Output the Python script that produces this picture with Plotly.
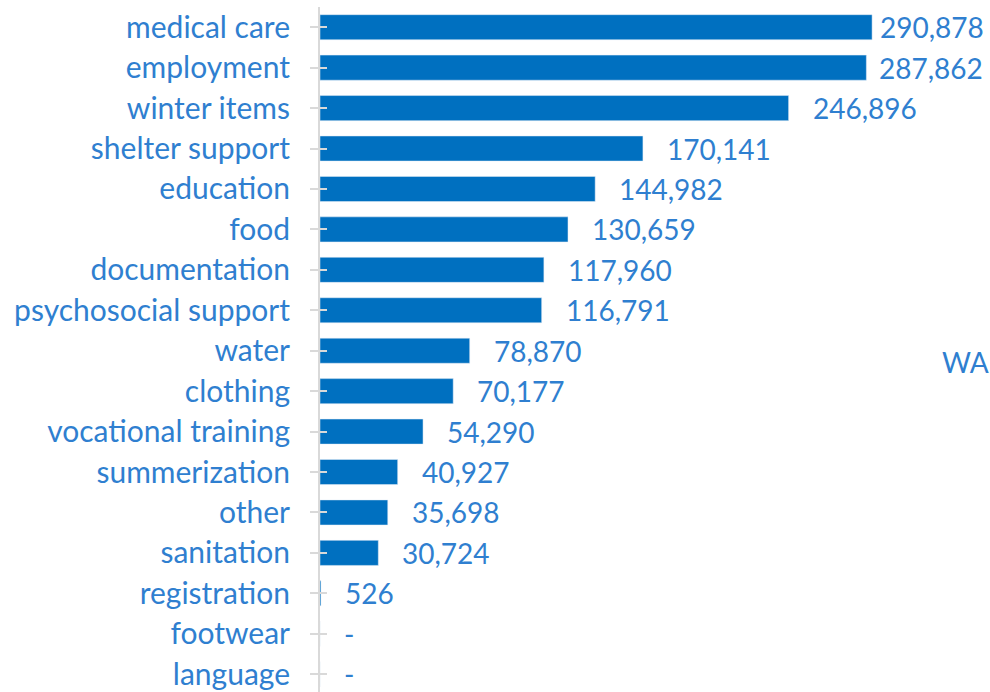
"""Horizontal bar chart: number of people by need category."""

import plotly.graph_objects as go

AZUL_BARRA = "#0070c0"
AZUL_TEXTO = "#2f7fd0"
CINZA = "#d9d9d9"
FONTE = "Lato, 'Open Sans', sans-serif"

categorias = [
    "medical care", "employment", "winter items", "shelter support",
    "education", "food", "documentation", "psychosocial support",
    "water", "clothing", "vocational training", "summerization",
    "other", "sanitation", "registration", "footwear", "language",
]
valores = [
    290878, 287862, 246896, 170141, 144982, 130659, 117960, 116791,
    78870, 70177, 54290, 40927, 35698, 30724, 526, 0, 0,
]
rotulo_serie = "WA"


def _fmt(v: int) -> str:
    return f"{v:,}" if v else "-"


fig = go.Figure()
fig.add_trace(go.Bar(
    y=categorias, x=valores, orientation="h",
    marker=dict(color=AZUL_BARRA, line=dict(width=0)),
    width=0.62, hoverinfo="skip", showlegend=False,
))
# cópia invisível só para desenhar a parte interna dos ticks (cruzando o eixo)
fig.add_trace(go.Bar(
    y=categorias, x=valores, orientation="h", yaxis="y2",
    marker=dict(color="rgba(0,0,0,0)"), width=0.62,
    hoverinfo="skip", showlegend=False,
))

# rótulos de valor: os dois maiores ficam encostados para caber na página
deslocamentos = {0: 6, 1: 11}
for i, (cat, v) in enumerate(zip(categorias, valores)):
    fig.add_annotation(
        x=v, y=cat, xref="x", yref="y",
        text=_fmt(v), showarrow=False,
        xanchor="left", yanchor="middle",
        xshift=deslocamentos.get(i, 22),
        font=dict(family=FONTE, size=28, color=AZUL_TEXTO),
    )

fig.add_annotation(
    x=0.925, y=0.482, xref="paper", yref="paper",
    text=rotulo_serie, showarrow=False,
    xanchor="left", yanchor="middle",
    font=dict(family=FONTE, size=28, color=AZUL_TEXTO),
)

eixo_cat = dict(
    type="category", categoryorder="array", categoryarray=categorias,
    range=[16.44, -0.5], showgrid=False, zeroline=False,
)
fig.update_xaxes(
    range=[0, 353000], visible=False, showgrid=False, zeroline=False,
)
fig.update_layout(
    width=990, height=692,
    margin=dict(t=7, b=0, l=320, r=0),
    paper_bgcolor="white", plot_bgcolor="white",
    showlegend=False,
    yaxis=dict(
        **eixo_cat,
        showline=True, linecolor=CINZA, linewidth=2,
        ticks="outside", ticklen=8, tickcolor=CINZA, tickwidth=2,
        ticklabelstandoff=14,
        tickfont=dict(family=FONTE, size=30, color=AZUL_TEXTO),
    ),
    yaxis2=dict(
        **eixo_cat,
        overlaying="y", side="left", showline=False,
        ticks="inside", ticklen=7, tickcolor=CINZA, tickwidth=2,
        showticklabels=False,
    ),
)

fig.write_html(
    "out.html",
    config={"displayModeBar": False, "staticPlot": True},
    post_script="document.body.style.margin='0';",
)
